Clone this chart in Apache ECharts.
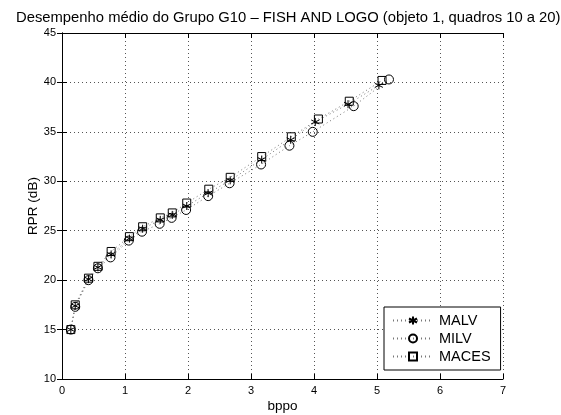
<!DOCTYPE html>
<html><head><meta charset="utf-8">
<script src="https://cdn.jsdelivr.net/npm/echarts@6/dist/echarts.min.js"></script>
<style>html,body{margin:0;padding:0;background:#fff}#c{width:561px;height:415px}</style>
</head><body><div id="c"></div>
<script>
const titleText = 'Desempenho médio do Grupo G10 – FISH AND LOGO (objeto 1, quadros 10 a 20)';
const xName = 'bppo';
const yName = 'RPR (dB)';
const seriesNames = ['MALV', 'MILV', 'MACES'];
const malvX = [0.14, 0.21, 0.42, 0.57, 0.78, 1.07, 1.28, 1.56, 1.75, 1.98, 2.32, 2.67, 3.17, 3.63, 4.02, 4.54, 5.03];
const malvY = [15.0, 17.4, 20.1, 21.3, 22.6, 24.2, 25.2, 26.1, 26.6, 27.5, 28.8, 30.1, 32.2, 34.2, 36.0, 37.8, 39.7];
const milvX = [0.14, 0.21, 0.42, 0.57, 0.77, 1.06, 1.27, 1.55, 1.74, 1.97, 2.32, 2.66, 3.16, 3.61, 3.98, 4.63, 5.19];
const milvY = [15.0, 17.3, 20.0, 21.2, 22.3, 24.0, 24.9, 25.7, 26.3, 27.1, 28.5, 29.8, 31.7, 33.6, 35.0, 37.6, 40.3];
const macesX = [0.14, 0.21, 0.42, 0.57, 0.78, 1.07, 1.28, 1.56, 1.75, 1.98, 2.33, 2.67, 3.17, 3.64, 4.07, 4.56, 5.08];
const macesY = [15.0, 17.5, 20.2, 21.4, 22.9, 24.4, 25.4, 26.3, 26.8, 27.8, 29.2, 30.4, 32.5, 34.5, 36.3, 38.1, 40.2];
const xTicks = [0, 1, 2, 3, 4, 5, 6, 7];
const yTicks = [10, 15, 20, 25, 30, 35, 40, 45];

const zip = (xs, ys) => xs.map((x, i) => [x, ys[i]]);
const FONT = 'Liberation Sans, Arial, sans-serif';
const star = 'path://M0,-5L0,5M-4.33,-2.5L4.33,2.5M-4.33,2.5L4.33,-2.5';

function mkSeries(name, data, symbol, size) {
  return {
    name, type: 'line', data, symbol, symbolSize: size,
    showAllSymbol: true,
    lineStyle: { color: '#777', width: 1, type: [1, 3] },
    itemStyle: { color: 'transparent', borderColor: '#000', borderWidth: 1 },
    emphasis: { disabled: true },
    animation: false, z: 3
  };
}

const chart = echarts.init(document.getElementById('c'));
const gridLine = { show: true, lineStyle: { color: '#555', type: [1, 3], width: 1 } };
const axisCommon = {
  axisLine: { show: true, lineStyle: { color: '#000', width: 1 } },
  axisTick: { show: true, inside: true, length: 5, lineStyle: { color: '#000' } },
};
chart.setOption({
  animation: false,
  backgroundColor: '#fff',
  title: {
    text: titleText, left: 11, top: 5,
    textStyle: { fontFamily: FONT, fontSize: 14.8, fontWeight: 'normal', color: '#000' }
  },
  grid: { left: 62, right: 58, top: 33, bottom: 36, containLabel: false, outerBoundsMode: 'none' },
  legend: {
    orient: 'vertical', left: 384, top: 307,
    width: 114,
    padding: [6, 10, 6, 8],
    itemGap: 3, itemWidth: 40, itemHeight: 10,
    borderColor: '#000', borderWidth: 1, backgroundColor: '#fff',
    textStyle: { fontFamily: FONT, fontSize: 14.5, color: '#000', padding: [0, 0, 0, 1] },
    data: seriesNames
  },
  xAxis: [
    Object.assign({
      type: 'value', min: xTicks[0], max: xTicks[xTicks.length - 1], interval: 1,
      name: xName, nameLocation: 'middle', nameGap: 20, nameMoveOverlap: false,
      nameTextStyle: { fontFamily: FONT, fontSize: 13.5, color: '#000' },
      axisLabel: { fontFamily: FONT, fontSize: 11, color: '#000', margin: 6 },
      splitLine: gridLine
    }, axisCommon),
    Object.assign({
      type: 'value', position: 'top', min: xTicks[0], max: xTicks[xTicks.length - 1], interval: 1,
      axisLabel: { show: false }, splitLine: { show: false }
    }, axisCommon)
  ],
  yAxis: [
    Object.assign({
      type: 'value', min: yTicks[0], max: yTicks[yTicks.length - 1], interval: 5,
      name: yName, nameLocation: 'middle', nameGap: 22, nameMoveOverlap: false,
      nameTextStyle: { fontFamily: FONT, fontSize: 13.5, color: '#000' },
      axisLabel: { fontFamily: FONT, fontSize: 11, color: '#000', margin: 6 },
      splitLine: gridLine
    }, axisCommon),
    Object.assign({
      type: 'value', position: 'right', min: yTicks[0], max: yTicks[yTicks.length - 1], interval: 5,
      axisLabel: { show: false }, splitLine: { show: false }
    }, axisCommon)
  ],
  series: [
    mkSeries(seriesNames[0], zip(malvX, malvY), star, 8),
    mkSeries(seriesNames[1], zip(milvX, milvY), 'circle', 9),
    mkSeries(seriesNames[2], zip(macesX, macesY), 'rect', 8)
  ]
});
</script></body></html>
